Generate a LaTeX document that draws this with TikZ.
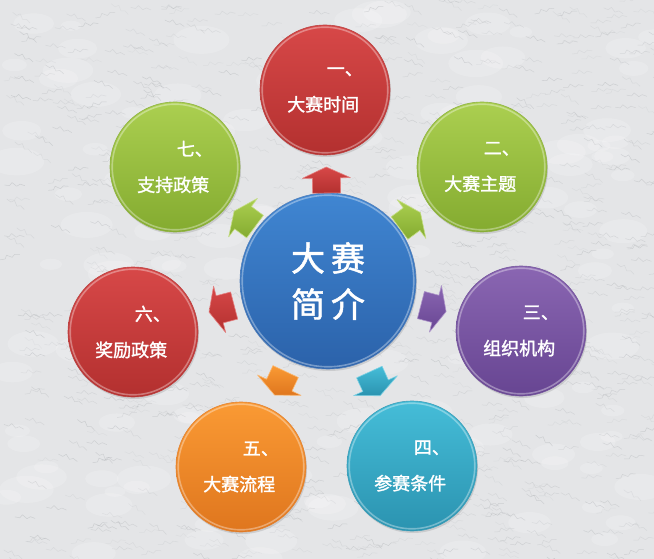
\documentclass[tikz,border=0pt]{standalone}
\usepackage{fontspec}
\newfontfamily\cjk{Noto Sans CJK SC}[FakeBold=1.4]
\usetikzlibrary{calc,shadows}
\definecolor{bgc}{HTML}{E4E5E7}
\definecolor{vein}{HTML}{8E9296}
\definecolor{redT}{HTML}{D74848}
\definecolor{redB}{HTML}{B3302F}
\definecolor{grnT}{HTML}{ABCF50}
\definecolor{grnB}{HTML}{84AB30}
\definecolor{purT}{HTML}{8A66B2}
\definecolor{purB}{HTML}{674592}
\definecolor{cyaT}{HTML}{45BDD8}
\definecolor{cyaB}{HTML}{2B93B0}
\definecolor{oraT}{HTML}{FA9A34}
\definecolor{oraB}{HTML}{DF761E}
\definecolor{bluT}{HTML}{4086D2}
\definecolor{bluB}{HTML}{2B62AA}
\tikzset{
  ball/.style n args={3}{circle, minimum size=#3, inner sep=0pt,
    top color=#1, bottom color=#2, draw=#2!90!white, line width=0.6pt,
    drop shadow={opacity=0.25, shadow xshift=1pt, shadow yshift=-2pt},
    path picture={\draw[white, opacity=0.35, line width=1.6pt]
      (path picture bounding box.center) circle ({#3/2-2.2pt});},
    text=white, align=left},
  smallball/.style 2 args={ball={#1}{#2}{130pt}, font=\cjk\fontsize{18}{36}\selectfont},
  pics/barrow/.style 2 args={code={
    \path[top color=#1, bottom color=#2, draw=#1!70!white, line width=0.6pt, line join=round]
      (-13,-14)--(2,-14)--(2,-24)--(13,0)--(2,24)--(2,14)--(-13,14)--cycle;
  }}
}
\begin{document}
\begin{tikzpicture}[x=1pt,y=1pt]
\useasboundingbox (0,0) rectangle (654,-559);
\fill[bgc] (0,0) rectangle (654,-559);
% marble texture
\pgfmathsetseed{17}
\foreach \i in {1,...,140}{
  \pgfmathsetmacro\xx{rnd*654}
  \pgfmathsetmacro\yy{-rnd*559}
  \pgfmathsetmacro\rr{10+18*rnd}
  \fill[white, opacity=0.18] (\xx,\yy) ellipse ({\rr} and {0.5*\rr});
}
\foreach \i in {1,...,900}{
  \pgfmathsetmacro\xx{rnd*654}
  \pgfmathsetmacro\yy{-rnd*559}
  \pgfmathsetmacro\aa{-40+50*rnd}
  \pgfmathsetmacro\op{0.08+0.2*rnd}
  \draw[vein, opacity=\op, line width=0.5pt, line join=round]
    (\xx,\yy) -- ++(\aa:5) -- ++(\aa+60:4) -- ++(\aa-30:6) -- ++(\aa+40:4) -- ++(\aa-10:5);
}
% centre
\node[ball={bluT}{bluB}{176pt}, draw=bluB!80!white, align=center,
      font=\cjk\fontsize{34}{46}\selectfont] (c) at (328,-281)
      {大\hspace{6pt}赛\\简\hspace{6pt}介};
% satellites
\node[smallball={redT}{redB}] (a1) at (325,-90)  {\hspace{2.2em}一、\\大赛时间};
\node[smallball={grnT}{grnB}] (a2) at (482,-167) {\hspace{2.2em}二、\\大赛主题};
\node[smallball={purT}{purB}] (a3) at (521,-331) {\hspace{2.2em}三、\\组织机构};
\node[smallball={cyaT}{cyaB}] (a4) at (412,-466) {\hspace{2.2em}四、\\参赛条件};
\node[smallball={oraT}{oraB}] (a5) at (241,-467) {\hspace{2.2em}五、\\大赛流程};
\node[smallball={redT}{redB}] (a6) at (133,-332) {\hspace{2.2em}六、\\奖励政策};
\node[smallball={grnT}{grnB}] (a7) at (175,-167) {\hspace{2.2em}七、\\支持政策};
% block arrows
\foreach \k/\d/\ct/\cb in {a1/101/redT/redB, a2/102/grnT/grnB, a3/109/purT/purB,
    a4/113/cyaT/cyaB, a5/113/oraT/oraB, a6/110/redT/redB, a7/104/grnT/grnB}{
  \path let \p1=($(\k)-(c)$), \n1={atan2(\y1,\x1)} in
    pic[rotate=\n1] at ($(c)!\d pt!(\k)$) {barrow={\ct}{\cb}};
}
\end{tikzpicture}
\end{document}
